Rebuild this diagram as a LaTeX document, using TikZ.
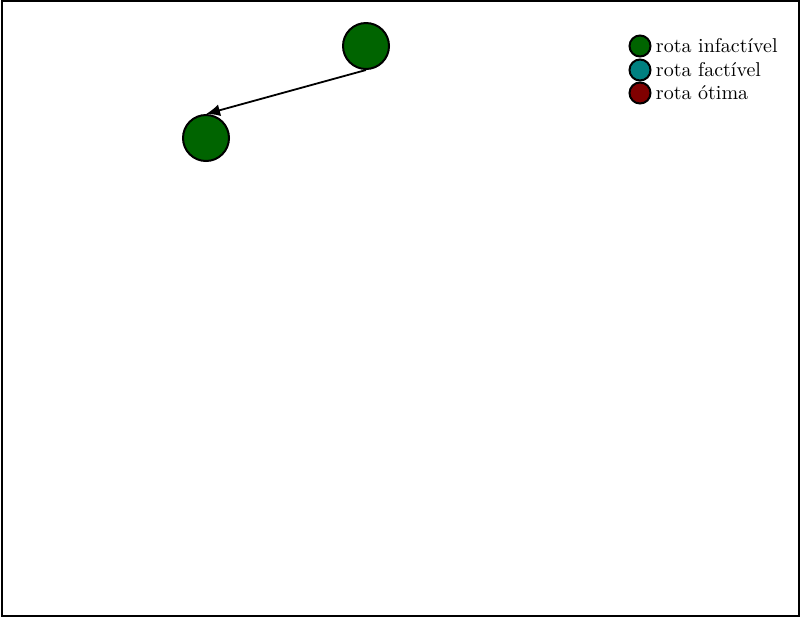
\documentclass[tikz,border=0pt]{standalone}
\usepackage{tikz}
\usetikzlibrary{positioning,arrows.meta}

\definecolor{infact}{RGB}{0,100,0}
\definecolor{fact}{RGB}{0,128,128}
\definecolor{otima}{RGB}{128,0,0}

\tikzset{
  city/.style={circle, draw=black, line width=1pt, minimum size=23pt, inner sep=0pt},
  legdot/.style={circle, draw=black, line width=1pt, minimum size=10.5pt, inner sep=0pt},
  legtext/.style={right=0pt of #1, inner sep=2pt},
}

\begin{document}
\begin{tikzpicture}[x=0.5pt, y=-0.5pt]
  \useasboundingbox (0,0) rectangle (801,618);
  % Frame
  \draw[line width=0.8pt] (2,1) rectangle (799,616);

  % Route nodes
  \node[city, fill=infact] (c1) at (366,46) {};
  \node[city, fill=infact] (c2) at (206,138) {};

  \draw[line width=0.9pt, -{Latex[length=7pt,width=6pt]}] (c1.south) -- (c2.north);

  % Legend
  \node[legdot, fill=infact] (l1) at (640,46) {};
  \node[legdot, fill=fact] (l2) at (640,70) {};
  \node[legdot, fill=otima] (l3) at (640,93) {};
  \node[legtext=l1] (t1) {rota infactível};
  \node[legtext=l2] (t2) {rota factível};
  \node[legtext=l3] (t3) {rota ótima};
\end{tikzpicture}
\end{document}
